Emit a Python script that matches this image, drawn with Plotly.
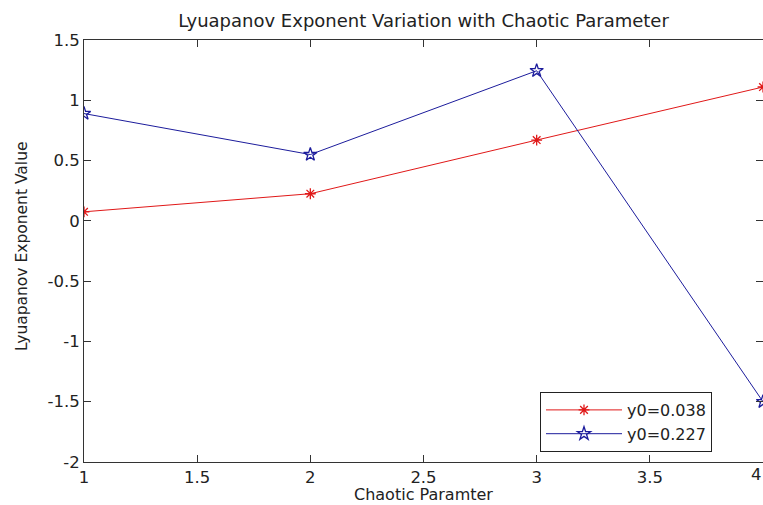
import plotly.graph_objects as go

# Chaotic parameter values and Lyapunov exponents for two initial conditions
chaotic_param = [1, 2, 3, 4]
lyap_y0_038 = [0.075, 0.225, 0.67, 1.11]
lyap_y0_227 = [0.89, 0.55, 1.245, -1.50]
series_names = ["y0=0.038", "y0=0.227"]

x_ticks = [1, 1.5, 2, 2.5, 3, 3.5, 4]
y_ticks = [-2, -1.5, -1, -0.5, 0, 0.5, 1, 1.5]

FONT = "DejaVu Sans"
TXT = "#222222"
W, H = 763, 505
M_L, M_R, M_T, M_B = 84, 0, 40, 43
TICK_SIZE = 16.5

fig = go.Figure()
fig.add_trace(go.Scatter(
    x=chaotic_param, y=lyap_y0_038, name=series_names[0],
    mode="lines+markers",
    line=dict(color="#e01818", width=1),
    marker=dict(symbol="asterisk-open", size=9, color="#e01818",
                line=dict(color="#e01818", width=1.3)),
))
fig.add_trace(go.Scatter(
    x=chaotic_param, y=lyap_y0_227, name=series_names[1],
    mode="lines+markers",
    line=dict(color="#1c1c9c", width=1),
    marker=dict(symbol="star-open", size=10, color="#1c1c9c",
                line=dict(color="#1c1c9c", width=1.3)),
))

axis_common = dict(
    showgrid=False, zeroline=False,
    showline=True, linecolor="#333333", linewidth=1, mirror="ticks",
    ticks="inside", ticklen=7, tickcolor="#333333", tickwidth=1,
    tickfont=dict(family=FONT, size=TICK_SIZE, color=TXT),
)

plot_w = W - M_L - M_R
plot_h = H - M_T - M_B

fig.update_layout(
    width=W, height=H,
    margin=dict(l=M_L, r=M_R, t=M_T, b=M_B),
    paper_bgcolor="white", plot_bgcolor="white",
    font=dict(family=FONT, color=TXT),
    title=dict(
        text="Lyuapanov Exponent Variation with Chaotic Parameter",
        x=0.5, xref="paper", xanchor="center",
        y=1 - 21 / H, yanchor="middle",
        font=dict(family=FONT, size=18, color=TXT),
    ),
    xaxis=dict(
        range=[1, 4], tickvals=x_ticks,
        ticktext=[f"{v:g}" for v in x_ticks],
        **axis_common,
    ),
    yaxis=dict(
        range=[-2, 1.5], tickvals=y_ticks,
        ticktext=[f"{v:g}" for v in y_ticks],
        **axis_common,
    ),
    legend=dict(
        x=(540 - M_L) / plot_w, y=(H - M_B - 392) / plot_h,
        xanchor="left", yanchor="top",
        bgcolor="white", bordercolor="#222222", borderwidth=1,
        font=dict(family=FONT, size=16, color=TXT),
        itemwidth=76, tracegroupgap=0,
    ),
    showlegend=True,
    annotations=[
        # last x tick label sits against the right edge of the figure
        dict(text=f"{x_ticks[-1]:g}", xref="paper", yref="paper",
             x=1, y=-(475 - (H - M_B)) / plot_h,
             xanchor="right", yanchor="middle", showarrow=False,
             borderpad=0,
             font=dict(family=FONT, size=TICK_SIZE, color=TXT)),
        dict(text="Chaotic Paramter", xref="paper", yref="paper",
             x=0.5, y=-M_B / plot_h,
             xanchor="center", yanchor="bottom", showarrow=False,
             borderpad=0,
             font=dict(family=FONT, size=16, color=TXT)),
        dict(text="Lyuapanov Exponent Value", xref="paper", yref="paper",
             x=-(M_L - 22) / plot_w, y=(H - M_B - 246) / plot_h,
             xanchor="center", yanchor="middle", textangle=-90,
             showarrow=False,
             font=dict(family=FONT, size=15.5, color=TXT)),
    ],
)

fig.write_html("out.html")
